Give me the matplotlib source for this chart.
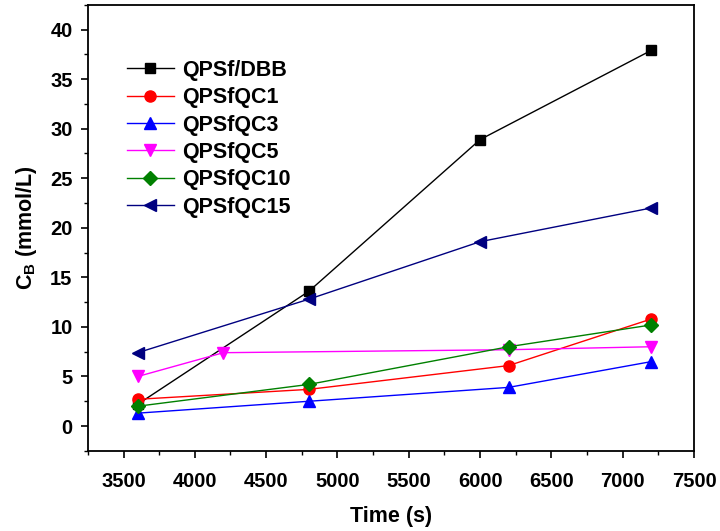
import matplotlib
matplotlib.use('Agg')
from matplotlib import pyplot as plt
from matplotlib.ticker import MultipleLocator

plt.rcParams['font.family'] = 'Liberation Sans'
plt.rcParams['font.weight'] = 'bold'
plt.rcParams['mathtext.fontset'] = 'custom'
plt.rcParams['mathtext.bf'] = 'Liberation Sans:bold'
plt.rcParams['mathtext.rm'] = 'Liberation Sans:bold'

# data
labels = ['QPSf/DBB', 'QPSfQC1', 'QPSfQC3', 'QPSfQC5', 'QPSfQC10', 'QPSfQC15']
times = [
    [3600, 4800, 6000, 7200],
    [3600, 4800, 6200, 7200],
    [3600, 4800, 6200, 7200],
    [3600, 4200, 6200, 7200],
    [3600, 4800, 6200, 7200],
    [3600, 4800, 6000, 7200],
]
cb_dbb = [2.2, 13.6, 28.9, 37.9]
cb_qc1 = [2.7, 3.7, 6.1, 10.8]
cb_qc3 = [1.3, 2.5, 3.9, 6.5]
cb_qc5 = [5.0, 7.4, 7.7, 8.0]
cb_qc10 = [2.0, 4.2, 8.0, 10.2]
cb_qc15 = [7.4, 12.8, 18.6, 22.0]
values = [cb_dbb, cb_qc1, cb_qc3, cb_qc5, cb_qc10, cb_qc15]

colors = ['black', 'red', 'blue', 'magenta', 'green', 'navy']
markers = ['s', 'o', '^', 'v', 'D', '<']
sizes = [7, 8, 8, 8, 7, 8]

fig = plt.figure(figsize=(7.2, 5.31), dpi=100)
ax = fig.add_axes([0.122, 0.151, 0.842, 0.840])

for t, v, lab, c, m, s in zip(times, values, labels, colors, markers, sizes):
    ax.plot(t, v, color=c, marker=m, markersize=s, linewidth=1, label=lab)

ax.set_xlim(3250, 7500)
ax.set_ylim(-2.5, 42.5)
ax.xaxis.set_major_locator(MultipleLocator(500))
ax.xaxis.set_minor_locator(MultipleLocator(250))
ax.yaxis.set_major_locator(MultipleLocator(5))
ax.yaxis.set_minor_locator(MultipleLocator(2.5))
ax.tick_params(which='major', direction='out', length=5, width=1.2, labelsize=14.5)
ax.tick_params(axis='x', which='major', pad=10)
ax.tick_params(axis='y', which='major', pad=6)
ax.tick_params(which='minor', direction='out', length=3, width=1.0)
for sp in ax.spines.values():
    sp.set_linewidth(1.3)

ax.set_xlabel('Time (s)', fontsize=15.5, fontweight='bold', labelpad=11)
ax.set_ylabel(r'$\mathbf{C_B}$ (mmol/L)', fontsize=15.5, fontweight='bold', labelpad=8)

ax.legend(loc='upper left', bbox_to_anchor=(0.064, 0.877), frameon=False,
          fontsize=15.5, handlelength=2.2, handletextpad=0.4,
          labelspacing=0.3, borderaxespad=0, borderpad=0)

plt.savefig('out.png')
